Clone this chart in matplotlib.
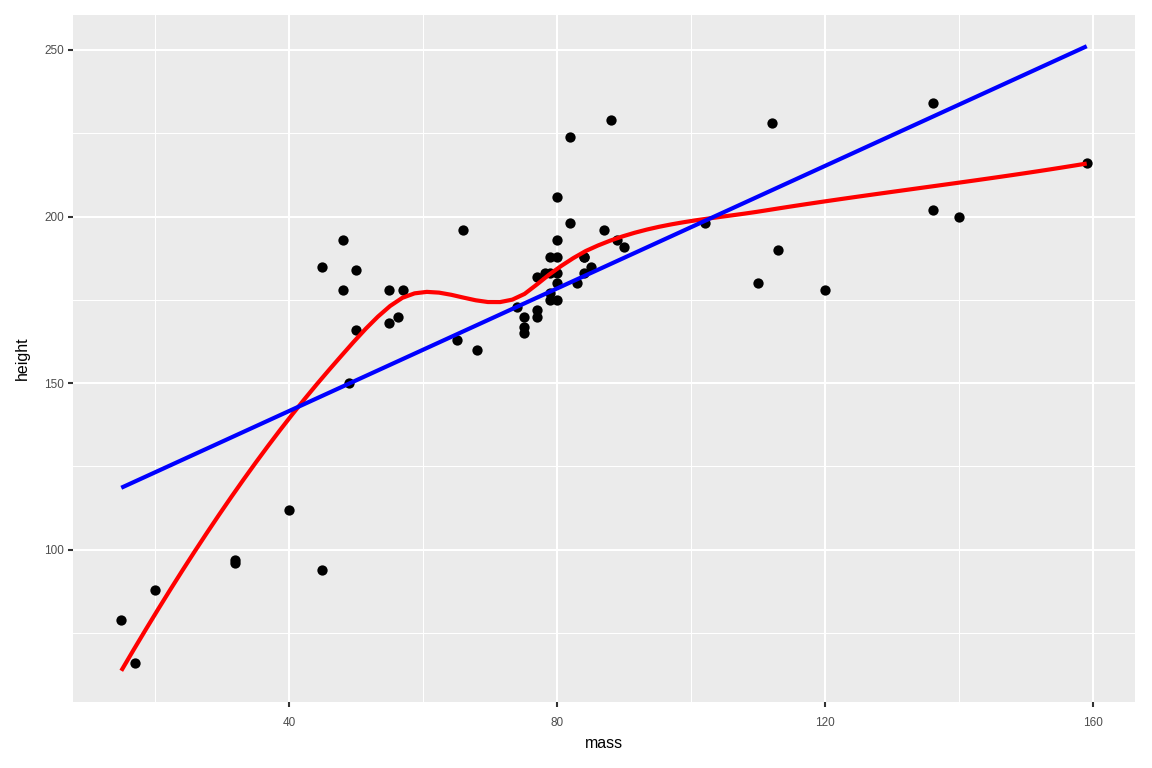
import numpy as np
import matplotlib
matplotlib.use("Agg")
import matplotlib.pyplot as plt

# star wars characters with known mass (Jabba left out)
mass = [77, 75, 32, 136, 49, 120, 75, 32, 84, 77, 84, 112, 80, 74, 77, 110, 17, 75,
        78.2, 140, 113, 79, 79, 83, 20, 68, 89, 90, 66, 82, 40, 80, 55, 45, 15, 65,
        84, 82, 87, 50, 80, 85, 80, 56.2, 50, 80, 79, 55, 102, 88, 48, 57, 159, 136,
        79, 48, 80, 45]
height = [172, 167, 96, 202, 150, 178, 165, 97, 183, 182, 188, 228, 180, 173, 170, 180, 66, 170,
          183, 200, 190, 177, 175, 180, 88, 160, 193, 191, 196, 224, 112, 175, 178, 94, 79, 163,
          188, 198, 196, 184, 188, 185, 183, 170, 166, 193, 183, 168, 198, 229, 193, 178, 216, 234,
          188, 178, 206, 185]


def local_fit(x, y, x0, q):
    # quadratic fit around x0 with tricube weights -> value and slope
    d = np.abs(x - x0)
    h = np.sort(d)[q - 1]
    w = np.clip(1 - (d / h) ** 3, 0, None) ** 3
    X = np.column_stack([np.ones(len(x)), x - x0, (x - x0) ** 2])
    W = np.sqrt(w)
    beta = np.linalg.lstsq(X * W[:, None], y * W, rcond=None)[0]
    return beta[0], beta[1]


def loess(x, y, xnew, span=0.75, cell=0.2):
    # R style loess: fits at kd-tree vertices, cubic hermite in between
    n = len(x)
    q = int(np.floor(n * span))
    fc = int(np.floor(n * span * cell))
    xsort = np.sort(x)
    pad = 0.005 * (xsort[-1] - xsort[0])
    verts = [xsort[0] - pad, xsort[-1] + pad]

    def split(lo, hi):
        if hi - lo + 1 <= fc:
            return
        m = (lo + hi) // 2
        v = (xsort[m] + xsort[m + 1]) / 2
        verts.append(v)
        split(lo, m)
        split(m + 1, hi)

    split(0, n - 1)
    verts = np.array(sorted(set(verts)))
    fits = np.array([local_fit(x, y, v, q) for v in verts])
    out = []
    for x0 in xnew:
        i = min(np.searchsorted(verts, x0, side='right') - 1, len(verts) - 2)
        a, b = verts[i], verts[i + 1]
        hh = b - a
        t = (x0 - a) / hh
        h00 = 2 * t**3 - 3 * t**2 + 1
        h10 = t**3 - 2 * t**2 + t
        h01 = -2 * t**3 + 3 * t**2
        h11 = t**3 - t**2
        out.append(h00 * fits[i, 0] + h10 * hh * fits[i, 1]
                   + h01 * fits[i + 1, 0] + h11 * hh * fits[i + 1, 1])
    return np.array(out)


x = np.array(mass, dtype=float)
y = np.array(height, dtype=float)
xs = np.linspace(x.min(), x.max(), 80)
y_lo = loess(x, y, xs)
slope, icpt = np.polyfit(x, y, 1)
y_lm = icpt + slope * xs

plt.rcParams['font.family'] = ['Liberation Sans', 'DejaVu Sans']
fig = plt.figure(figsize=(11.52, 7.68), dpi=100)
ax = fig.add_axes([73 / 1152, 66 / 768, (1135 - 73) / 1152, (702 - 15) / 768])
ax.set_facecolor('#EBEBEB')
for s in ax.spines.values():
    s.set_visible(False)

ax.scatter(x, y, s=55, color='black', zorder=3, linewidths=0)
ax.plot(xs, y_lo, color='red', lw=3.0, zorder=4, solid_capstyle='butt')
ax.plot(xs, y_lm, color='blue', lw=3.0, zorder=4, solid_capstyle='butt')

xr = x.max() - x.min()
ax.set_xlim(x.min() - 0.05 * xr, x.max() + 0.05 * xr)
ylo = min(y.min(), y_lo.min(), y_lm.min())
yhi = max(y.max(), y_lo.max(), y_lm.max())
yr = yhi - ylo
ax.set_ylim(ylo - 0.05 * yr, yhi + 0.05 * yr)

ax.set_xticks([40, 80, 120, 160])
ax.set_yticks([100, 150, 200, 250])
ax.set_xticks([20, 60, 100, 140], minor=True)
ax.set_yticks([75, 125, 175, 225], minor=True)
ax.grid(which='major', color='white', lw=1.5)
ax.grid(which='minor', color='white', lw=0.75)
ax.set_axisbelow(True)
ax.tick_params(which='major', length=3.5, width=1.5, color='#333333',
               labelsize=8.5, labelcolor='#4D4D4D')
ax.tick_params(axis='x', pad=7)
ax.tick_params(axis='y', pad=3)
ax.tick_params(which='minor', length=0)

ax.set_xlabel('mass', fontsize=11.5, labelpad=5)
ax.set_ylabel('height', fontsize=11.5, labelpad=10)

fig.savefig('out.png', dpi=100)
